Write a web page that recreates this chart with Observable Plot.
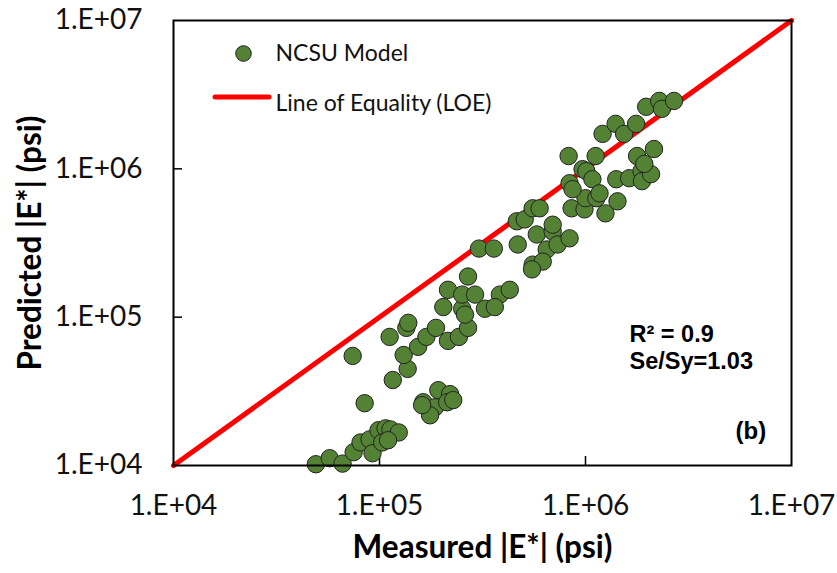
<!DOCTYPE html>
<html>
<head>
<meta charset="utf-8">
<script src="https://cdn.jsdelivr.net/npm/d3@7"></script>
<script src="https://cdn.jsdelivr.net/npm/@observablehq/plot@0.6"></script>
<style>
  html, body { margin: 0; padding: 0; background: #fff; }
  #chart { width: 837px; height: 573px; }
</style>
</head>
<body>
<div id="chart"></div>
<script>
// Measured |E*| (psi)
const measured = [
  49100, 57300, 66200, 74900, 80900, 89500, 92500, 98900, 107000, 103000,
  113000, 124000, 110000, 84700, 74100, 116000, 137000, 131000, 112000, 135000,
  138000, 154000, 169000, 188000, 215000, 243000, 269000, 163000, 193000, 220000,
  186000, 176000, 213000, 228000, 161000, 204000, 252000, 260000, 325000, 304000,
  359000, 469000, 269000, 215000, 252000, 291000, 384000, 429000, 363000, 464000,
  507000, 554000, 599000, 580000, 648000, 693000, 732000, 837000, 554000, 620000,
  856000, 989000, 1000000, 837000, 865000, 1130000, 1970000, 2280000, 2350000, 2690000,
  1210000, 1400000, 1540000, 1760000, 828000, 1120000, 2150000, 1780000, 968000, 1010000,
  1080000, 1410000, 1630000, 1870000, 1880000, 2080000, 1930000, 1170000, 1250000, 1430000,
  693000, 550000
];
// Predicted |E*| (psi)
const predicted = [
  10200, 11200, 10300, 12300, 14300, 15000, 12100, 17300, 17800, 14300,
  17500, 16700, 14800, 26300, 54800, 37700, 44800, 55600, 73600, 84700,
  91600, 63100, 73600, 84700, 69200, 73600, 84700, 26700, 32200, 30300,
  24700, 21800, 26700, 27600, 25500, 117000, 114000, 104000, 114000, 290000,
  290000, 309000, 188000, 153000, 142000, 142000, 142000, 153000, 117000, 443000,
  456000, 542000, 542000, 361000, 286000, 378000, 309000, 340000, 226000, 237000,
  542000, 533000, 634000, 800000, 729000, 634000, 2620000, 2870000, 2540000, 2870000,
  1720000, 2010000, 1720000, 2010000, 1220000, 1220000, 1360000, 1220000, 995000, 965000,
  851000, 851000, 865000, 965000, 826000, 921000, 1080000, 684000, 501000, 604000,
  420000, 210000
];
const tickValues = [1e4, 1e5, 1e6, 1e7];
const tickLabels = ["1.E+04", "1.E+05", "1.E+06", "1.E+07"];
const loe = [1e4, 1e7];
const seriesNames = ["NCSU Model", "Line of Equality (LOE)"];
const stats = ["R\u00B2 = 0.9", "Se/Sy=1.03"];
const panelLabel = "(b)";
const xTitle = "Measured |E*| (psi)";
const yTitle = "Predicted |E*| (psi)";

const points = measured.map((m, i) => ({measured: m, predicted: predicted[i]}));
const fmt = d => tickLabels[tickValues.indexOf(d)];

const W = 837, H = 573;
const mL = 173, mR = 46, mT = 20, mB = 108;
const innerW = W - mL - mR, innerH = H - mT - mB;
const FONT = "Lato, 'Open Sans', sans-serif";
const ARIAL = "'Liberation Sans', Arial, sans-serif";

const plot = Plot.plot({
  width: W,
  height: H,
  marginLeft: mL,
  marginRight: mR,
  marginTop: mT,
  marginBottom: mB,
  style: {background: "#fff", fontFamily: FONT, color: "#000"},
  x: {type: "log", domain: [1e4, 1e7]},
  y: {type: "log", domain: [1e4, 1e7]},
  marks: [
    Plot.axisX({ticks: tickValues, tickFormat: fmt, tickSize: 0, tickPadding: 29.5, fontSize: 28, label: null, fill: "#111"}),
    Plot.axisY({ticks: tickValues, tickFormat: fmt, tickSize: 0, tickPadding: 31, fontSize: 28, label: null, fill: "#111"}),
    Plot.tickX(tickValues.slice(1, 3), {x: d => d, stroke: "#000", strokeWidth: 1.5, insetTop: innerH - 9}),
    Plot.tickY(tickValues.slice(1, 3), {y: d => d, stroke: "#000", strokeWidth: 1.5, insetRight: innerW - 9}),
    Plot.line(loe, {x: d => d, y: d => d, stroke: "#ff0000", strokeWidth: 5}),
    Plot.dot(points, {x: "measured", y: "predicted", r: 8.7, fill: "#548235", stroke: "#222", strokeWidth: 1}),
    Plot.frame({stroke: "#000", strokeWidth: 2}),
    // legend
    Plot.dot([seriesNames[0]], {frameAnchor: "top-left", dx: 70, dy: 33, r: 7.8, fill: "#548235", stroke: "#222", strokeWidth: 1}),
    Plot.text([seriesNames[0]], {frameAnchor: "top-left", dx: 102, dy: 40.5, text: d => d, textAnchor: "start", lineAnchor: "bottom", fontSize: 23, fill: "#111"}),
    Plot.text([seriesNames[1]], {frameAnchor: "top-left", dx: 102, dy: 90.5, text: d => d, textAnchor: "start", lineAnchor: "bottom", fontSize: 23, fill: "#111"}),
    // stats annotation
    Plot.text([stats[0]], {frameAnchor: "top-left", dx: 456, dy: 321.5, text: d => d, textAnchor: "start", lineAnchor: "bottom", fontSize: 23.5, fontWeight: "bold", fontFamily: ARIAL, fill: "#000"}),
    Plot.text([stats[1]], {frameAnchor: "top-left", dx: 456, dy: 348.5, text: d => d, textAnchor: "start", lineAnchor: "bottom", fontSize: 23.5, fontWeight: "bold", fontFamily: ARIAL, fill: "#000"}),
    Plot.text([panelLabel], {frameAnchor: "top-left", dx: 562, dy: 418.5, text: d => d, textAnchor: "start", lineAnchor: "bottom", fontSize: 24, fontWeight: "bold", fontFamily: ARIAL, fill: "#000"}),
    // axis titles
    Plot.text([xTitle], {frameAnchor: "bottom", dy: 92, text: d => d, textAnchor: "middle", lineAnchor: "bottom", fontSize: 31.5, fontWeight: "bold", fill: "#000"}),
    Plot.text([yTitle], {frameAnchor: "left", dx: -143, rotate: -90, text: d => d, textAnchor: "middle", lineAnchor: "middle", fontSize: 31.5, fontWeight: "bold", fill: "#000"})
  ]
});

// legend line sample for the Line of Equality
d3.select(plot).append("line")
  .attr("x1", mL + 42).attr("x2", mL + 96)
  .attr("y1", mT + 77).attr("y2", mT + 77)
  .attr("stroke", "#ff0000").attr("stroke-width", 5).attr("stroke-linecap", "round");

document.getElementById("chart").appendChild(plot);
</script>
</body>
</html>
